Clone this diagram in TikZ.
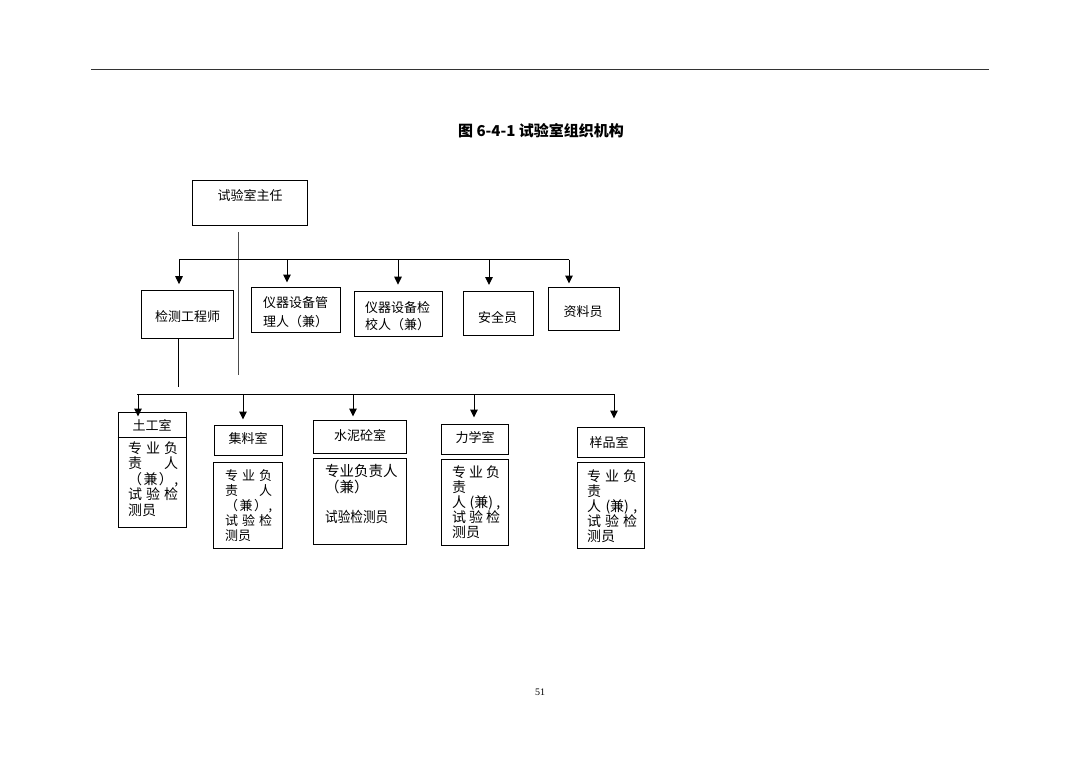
\documentclass[tikz,border=0pt]{standalone}
\usepackage{fontspec}
\setmainfont{Liberation Serif}
\newfontfamily\cjk{Noto Sans CJK SC}
\usetikzlibrary{arrows.meta}
\newcommand\jst[2]{\hbox to #1{#2}}
\begin{document}
\begin{tikzpicture}[x=1pt,y=-1pt,
  box/.style={draw, line width=1pt, inner sep=0pt},
  conn/.style={line width=1pt},
  arr/.style={conn, -{Triangle[length=8pt,width=7.5pt]}},
  lbl/.style={inner sep=0pt, font={\cjk\fontsize{13}{19}\selectfont}},
  hdr/.style={inner sep=0pt, font={\cjk\fontsize{13}{15}\selectfont}},
  body/.style={inner sep=0pt, anchor=north west, align=left},
  bodyA/.style={body, font={\cjk\fontsize{14}{15.5}\selectfont}},
  bodyB/.style={body, font={\cjk\fontsize{13}{15}\selectfont}},
  bodyC/.style={body, font={\cjk\fontsize{14}{15}\selectfont}}
]
\useasboundingbox (0,0) rectangle (1080,764);
\fill[white] (0,0) rectangle (1080,764);

% header rule
\coordinate (rl) at (91,69);
\coordinate (rr) at (989,69);
\draw[line width=1pt, black!80] (rl) -- (rr);

% title
\node[inner sep=0pt, font={\cjk\bfseries\fontsize{15}{18}\selectfont}] (title) at (541,131) {图 6-4-1 试验室组织机构};

% top box
\node[box, minimum width=114.3pt, minimum height=45pt] (zr) at (249.85,202.5) {};
\node[lbl] (zrt) at (250,195) {试验室主任};

% second row boxes
\node[box, minimum width=91.3pt, minimum height=47.3pt] (jc) at (187.35,314.35) {};
\node[lbl] (jct) at (187.5,317) {检测工程师};
\node[box, minimum width=89pt, minimum height=45pt] (yg) at (296.2,309.5) {};
\node[lbl, anchor=north west, align=left] (ygt) at (263,296.5) {仪器设备管\\理人（兼）};
\node[box, minimum width=88pt, minimum height=44.3pt] (yj) at (398,313.85) {};
\node[lbl, anchor=north west, align=left, font={\cjk\fontsize{13}{17}\selectfont}] (yjt) at (365,300.8) {仪器设备检\\校人（兼）};
\node[box, minimum width=70pt, minimum height=44pt] (aq) at (498,313) {};
\node[lbl] (aqt) at (497.5,318) {安全员};
\node[box, minimum width=71pt, minimum height=43pt] (zl) at (583.5,308.5) {};
\node[lbl] (zlt) at (583,312) {资料员};

% main vertical line
\coordinate (v1) at (238,232);
\coordinate (v2) at (238,375);
\draw[conn, black!70] (v1) -- (v2);

% bar 1
\coordinate (b1l) at (179,259.5);
\coordinate (b1r) at (569,259.5);
\draw[conn] (b1l) -- (b1r);
\coordinate (a1) at (179,259.5);
\coordinate (a2) at (287,259.5);
\coordinate (a3) at (398,259.5);
\coordinate (a4) at (489,259.5);
\coordinate (a5) at (569,259.5);
\draw[arr, shorten >=6pt] (a1) -- (a1 |- jc.north);
\draw[arr, shorten >=4pt] (a2) -- (a2 |- yg.north);
\draw[arr, shorten >=6.5pt] (a3) -- (a3 |- yj.north);
\draw[arr, shorten >=5.5pt] (a4) -- (a4 |- aq.north);
\draw[arr, shorten >=3pt] (a5) -- (a5 |- zl.north);

% line from 检测工程师
\coordinate (jd) at (178,387);
\draw[conn] (jd |- jc.south) -- (jd);

% bar 2
\coordinate (b2l) at (137,394);
\coordinate (b2r) at (614,394);
\draw[conn] (b2l) -- (b2r);
\coordinate (c1) at (138,394);
\coordinate (c2) at (243,394);
\coordinate (c3) at (353,394);
\coordinate (c4) at (474,394);
\coordinate (c5) at (614,394);

% 土工室
\node[box, minimum width=68pt, minimum height=115pt] (tg) at (152,469.5) {};
\coordinate (tgd) at (152,437);
\draw[line width=1pt] (tg.west |- tgd) -- (tg.east |- tgd);
\node[hdr] (tgh) at (152,425.5) {土工室};
\node[bodyA] (tgb) at (128,441.5) {\jst{50pt}{专\hfill 业\hfill 负}\\ \jst{50pt}{责\hfill 人}\\ \jst{50pt}{（\hfill 兼\hfill ）\hfill ,}\\ \jst{50pt}{试\hfill 验\hfill 检}\\ 测员};

% 集料室
\node[box, minimum width=68pt, minimum height=30pt] (jlh) at (248,440) {};
\node[hdr] (jlht) at (248,438.5) {集料室};
\node[box, minimum width=68.5pt, minimum height=86pt] (jlb) at (247.75,505) {};
\node[bodyB] (jlbt) at (225,469) {\jst{47pt}{专\hfill 业\hfill 负}\\ \jst{47pt}{责\hfill 人}\\ \jst{47pt}{（\hfill 兼\hfill ）\hfill ,}\\ \jst{47pt}{试\hfill 验\hfill 检}\\ 测员};

% 水泥砼室
\node[box, minimum width=93pt, minimum height=33pt] (snh) at (359.5,436.5) {};
\node[hdr] (snht) at (360,435.5) {水泥砼室};
\node[box, minimum width=93pt, minimum height=86pt] (snb) at (359.5,501) {};
\node[bodyA, font={\cjk\fontsize{14.5}{16}\selectfont}] (snbt) at (325,464.5) {专业负责人\\（兼）\\[14pt] \scalebox{0.87}[1]{试验检测员}};

% 力学室
\node[box, minimum width=67pt, minimum height=30pt] (lxh) at (474.5,439) {};
\node[hdr] (lxht) at (475,437.5) {力学室};
\node[box, minimum width=67pt, minimum height=86pt] (lxb) at (474.5,502) {};
\node[bodyC] (lxbt) at (452,465.5) {\jst{48pt}{专\hfill 业\hfill 负}\\ 责\\ \jst{48pt}{人\hfill (兼)\hfill ,}\\ \jst{48pt}{试\hfill 验\hfill 检}\\ 测员};

% 样品室
\node[box, minimum width=67pt, minimum height=30pt] (yph) at (610.5,442) {};
\node[hdr] (ypht) at (609,442) {样品室};
\node[box, minimum width=67pt, minimum height=86pt] (ypb) at (610.5,505) {};
\node[bodyC] (ypbt) at (587,469.5) {\jst{50pt}{专\hfill 业\hfill 负}\\ 责\\ \jst{50pt}{人\hfill (兼)\hfill ,}\\ \jst{50pt}{试\hfill 验\hfill 检}\\ 测员};

% arrows to rooms
\draw[arr, shorten >=-5pt] (c1) -- (c1 |- tg.north);
\draw[arr, shorten >=5pt] (c2) -- (c2 |- jlh.north);
\draw[arr, shorten >=3pt] (c3) -- (c3 |- snh.north);
\draw[arr, shorten >=6pt] (c4) -- (c4 |- lxh.north);
\draw[arr, shorten >=8pt] (c5) -- (c5 |- yph.north);

% page number
\node[inner sep=0pt, font=\fontsize{10}{12}\selectfont] (pg) at (540,692) {51};
\end{tikzpicture}
\end{document}
